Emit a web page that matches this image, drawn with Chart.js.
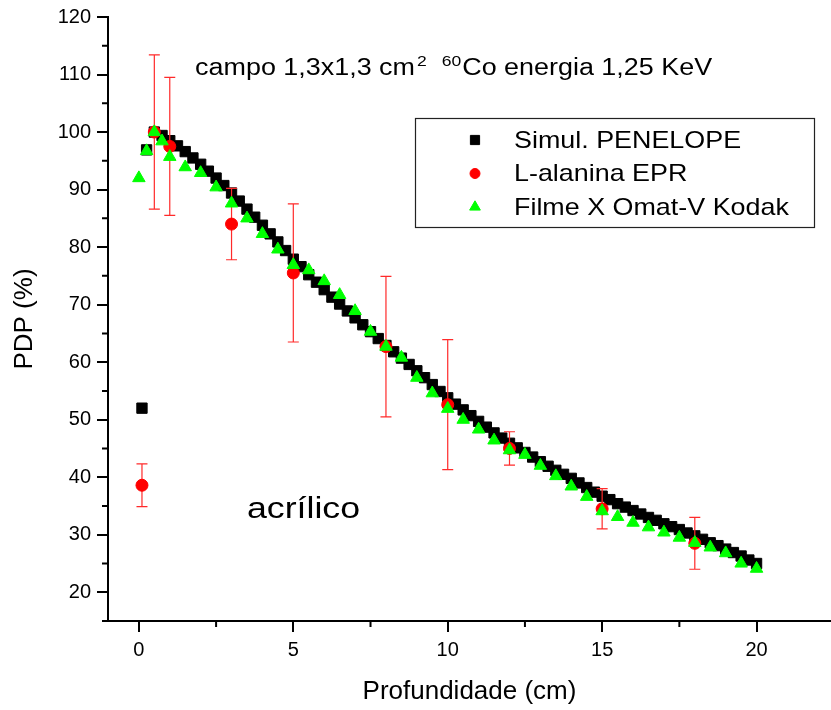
<!DOCTYPE html>
<html><head><meta charset="utf-8">
<script src="https://cdn.jsdelivr.net/npm/chart.js@4.4.0/dist/chart.umd.min.js"></script>
<style>html,body{margin:0;padding:0;background:#fff;}#wrap{width:831px;height:710px;}</style>
</head><body><div id="wrap"><canvas id="c" width="831" height="710"></canvas></div>
<script>
// ---- data ----
const seriesNames = ['Simul. PENELOPE', 'L-alanina EPR', 'Filme X Omat-V Kodak'];
const penelopeX = [0.1,0.25,0.5,0.75,1,1.25,1.5,1.75,2,2.25,2.5,2.75,3,3.25,3.5,3.75,4,4.25,4.5,4.75,5,5.25,5.5,5.75,6,6.25,6.5,6.75,7,7.25,7.5,7.75,8,8.25,8.5,8.75,9,9.25,9.5,9.75,10,10.25,10.5,10.75,11,11.25,11.5,11.75,12,12.25,12.5,12.75,13,13.25,13.5,13.75,14,14.25,14.5,14.75,15,15.25,15.5,15.75,16,16.25,16.5,16.75,17,17.25,17.5,17.75,18,18.25,18.5,18.75,19,19.25,19.5,19.75,20];
const penelopeY = [52.0,96.9,100.0,99.4,98.5,97.6,96.6,95.5,94.4,93.2,92.0,90.7,89.4,88.0,86.6,85.2,83.8,82.3,80.9,79.4,77.9,76.6,75.2,73.9,72.6,71.3,70.1,68.9,67.7,66.5,65.3,64.1,62.9,61.8,60.7,59.6,58.5,57.3,56.1,54.9,53.8,52.7,51.7,50.7,49.7,48.7,47.7,46.8,45.9,45.1,44.3,43.5,42.7,41.9,41.2,40.5,39.8,39.0,38.2,37.4,36.7,36.1,35.4,34.8,34.2,33.6,33.0,32.5,31.9,31.4,30.9,30.3,29.8,29.2,28.6,28.1,27.5,26.9,26.3,25.6,25.0];
const alaninaX = [0.1,0.5,1,3,5,8,10,12,15,18];
const alaninaY = [38.6,100.0,97.5,84.0,75.5,62.7,52.6,45.0,34.5,28.5];
const alaninaErr = [3.7,13.4,12.0,6.2,12.0,12.2,11.3,2.9,3.5,4.5];
const filmeX = [0,0.25,0.5,0.75,1,1.5,2,2.5,3,3.5,4,4.5,5,5.5,6,6.5,7,7.5,8,8.5,9,9.5,10,10.5,11,11.5,12,12.5,13,13.5,14,14.5,15,15.5,16,16.5,17,17.5,18,18.5,19,19.5,20];
const filmeY = [92.0,96.7,100.0,98.4,95.7,93.9,92.9,90.4,87.6,85.0,82.3,79.6,76.9,76.0,74.1,71.7,68.9,65.3,62.7,60.8,57.3,54.6,51.9,50.0,48.3,46.4,44.7,43.9,42.0,40.2,38.4,36.6,34.1,33.1,32.1,31.3,30.4,29.5,28.6,27.8,26.8,25.0,24.1];
const xTickValues = [0,5,10,15,20];
const xMinorTicks = [2.5,7.5,12.5,17.5];
const yTickValues = [20,30,40,50,60,70,80,90,100,110,120];
const yMinorTicks = [15,25,35,45,55,65,75,85,95,105,115];
const xTitle = 'Profundidade (cm)';
const yTitle = 'PDP (%)';
const annoMain1 = 'campo 1,3x1,3 cm';
const annoSup1 = '2';
const annoSup2 = '60';
const annoMain2 = 'Co energia 1,25 KeV';
const materialLabel = 'acrílico';

const FONT = "'Liberation Sans', Arial, Helvetica, sans-serif";
const colors = ['#000000', '#ff0000', '#00ff00'];
const styles = ['rect', 'circle', 'triangle'];
const radii = [7.3, 6, 7.2];

function pts(xs, ys) { return xs.map((x, i) => ({x: x, y: ys[i]})); }

function stretchText(ctx, text, x, y, size, sx) {
  ctx.save();
  ctx.font = size + 'px ' + FONT;
  ctx.translate(x, y);
  ctx.scale(sx, 1);
  ctx.fillText(text, 0, 0);
  const w = ctx.measureText(text).width * sx;
  ctx.restore();
  return w;
}

const errorBars = {
  id: 'errorBars',
  afterDatasetDraw(chart, args) {
    if (args.index !== 0) return;
    const ctx = chart.ctx, xs = chart.scales.x, ys = chart.scales.y;
    ctx.save();
    ctx.strokeStyle = '#ff2a2a';
    ctx.lineWidth = 1.2;
    alaninaX.forEach((x, i) => {
      const px = xs.getPixelForValue(x);
      const top = ys.getPixelForValue(alaninaY[i] + alaninaErr[i]);
      const bot = ys.getPixelForValue(alaninaY[i] - alaninaErr[i]);
      ctx.beginPath();
      ctx.moveTo(px, top); ctx.lineTo(px, bot);
      ctx.moveTo(px - 5.5, top); ctx.lineTo(px + 5.5, top);
      ctx.moveTo(px - 5.5, bot); ctx.lineTo(px + 5.5, bot);
      ctx.stroke();
    });
    ctx.restore();
  }
};

const decorations = {
  id: 'decorations',
  afterDraw(chart) {
    const ctx = chart.ctx, xs = chart.scales.x, ys = chart.scales.y, ca = chart.chartArea;
    ctx.save();
    // minor ticks
    ctx.strokeStyle = '#000'; ctx.lineWidth = 2;
    ctx.beginPath();
    xMinorTicks.forEach(v => { const p = xs.getPixelForValue(v); ctx.moveTo(p, ca.bottom); ctx.lineTo(p, ca.bottom + 6); });
    yMinorTicks.forEach(v => { const p = ys.getPixelForValue(v); ctx.moveTo(ca.left - 6, p); ctx.lineTo(ca.left, p); });
    ctx.stroke();

    // annotation text
    ctx.fillStyle = '#000';
    ctx.textBaseline = 'alphabetic';
    ctx.textAlign = 'left';
    let ax = xs.getPixelForValue(1.82);
    const ay = ys.getPixelForValue(109.9);
    const sx = 1.17;
    ax += stretchText(ctx, annoMain1, ax, ay, 23, sx);
    ax += 2;
    ax += stretchText(ctx, annoSup1, ax, ay - 9, 15, sx);
    ax += 15;
    ax += stretchText(ctx, annoSup2, ax, ay - 9, 15, sx);
    ax += 1;
    stretchText(ctx, annoMain2, ax, ay, 23, sx);

    // material label
    stretchText(ctx, materialLabel, xs.getPixelForValue(3.5), ys.getPixelForValue(32.9), 30, 1.19);

    // legend box
    const bx = ca.left + 307, by = ca.top + 101, bw = 399, bh = 109;
    ctx.lineWidth = 1.2; ctx.strokeStyle = '#222';
    ctx.strokeRect(bx + 0.5, by + 0.5, bw, bh);
    ctx.textBaseline = 'middle';
    seriesNames.forEach((name, i) => {
      const cy = by + 22 + i * 33.5;
      ctx.fillStyle = colors[i]; ctx.strokeStyle = colors[i]; ctx.lineWidth = 1;
      Chart.helpers.drawPoint(ctx, {pointStyle: styles[i], radius: i === 0 ? 6.5 : radii[i] - 1, borderWidth: 1}, bx + 60, cy);
      ctx.fillStyle = '#000';
      stretchText(ctx, name, bx + 99, cy + 1, 24, 1.12);
    });
    ctx.restore();
  }
};

const axisFont = {family: FONT, size: 20};
const titleFont = {family: FONT, size: 26};

new Chart(document.getElementById('c'), {
  type: 'scatter',
  data: {
    datasets: seriesNames.map((name, i) => ({
      label: name,
      data: i === 0 ? pts(penelopeX, penelopeY) : i === 1 ? pts(alaninaX, alaninaY) : pts(filmeX, filmeY),
      pointStyle: styles[i],
      pointRadius: radii[i],
      pointHoverRadius: radii[i],
      backgroundColor: colors[i],
      borderColor: colors[i],
      borderWidth: 1,
      showLine: false,
      order: 3 - i
    }))
  },
  options: {
    responsive: false,
    animation: false,
    devicePixelRatio: 1,
    events: [],
    layout: {autoPadding: false, padding: {top: 17, right: 0, bottom: 0, left: 0}},
    plugins: {legend: {display: false}, tooltip: {enabled: false}},
    scales: {
      x: {
        type: 'linear', min: -1, max: 22.41,
        afterBuildTicks: s => { s.ticks = xTickValues.map(v => ({value: v})); },
        afterFit: s => { s.height = 89; s.paddingRight = 0; s.paddingLeft = 0; },
        ticks: {font: axisFont, color: '#000', padding: 6, autoSkip: false, maxRotation: 0, callback: v => String(v)},
        grid: {display: true, drawOnChartArea: false, drawTicks: true, tickLength: 11, color: '#000', lineWidth: 2},
        border: {display: true, color: '#000', width: 2},
        title: {display: true, text: xTitle, font: titleFont, color: '#000', padding: {top: 3, bottom: 3}}
      },
      y: {
        type: 'linear', min: 15, max: 120,
        afterBuildTicks: s => { s.ticks = yTickValues.map(v => ({value: v})); },
        afterFit: s => { s.width = 108; s.paddingTop = 0; s.paddingBottom = 0; },
        ticks: {font: axisFont, color: '#000', padding: 6, autoSkip: false, callback: v => String(v)},
        grid: {display: true, drawOnChartArea: false, drawTicks: true, tickLength: 11, color: '#000', lineWidth: 2},
        border: {display: true, color: '#000', width: 2},
        title: {display: true, text: yTitle, font: titleFont, color: '#000', padding: {top: 9, bottom: 0}}
      }
    }
  },
  plugins: [errorBars, decorations]
});
</script>
</body></html>
